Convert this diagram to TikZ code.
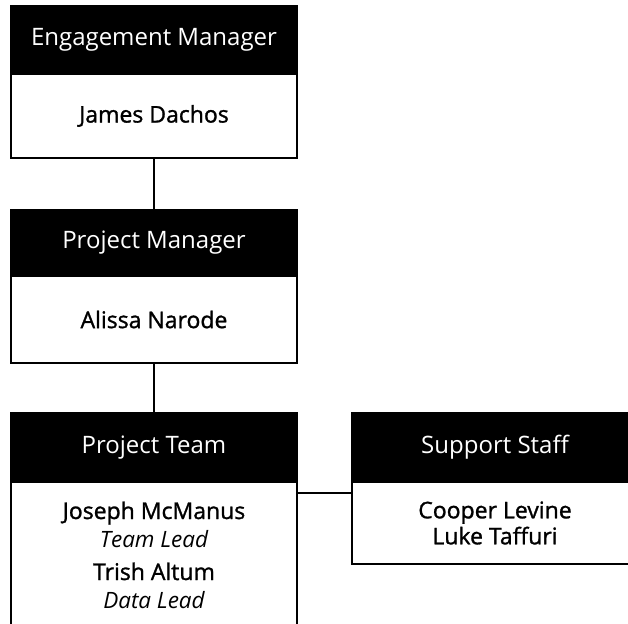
\documentclass[tikz,border=0pt]{standalone}
\usepackage{fontspec}
\setmainfont{Open Sans}
\newfontfamily\namefont[FakeBold=1.2]{Open Sans}
\usetikzlibrary{positioning}
\tikzset{
  link/.style={line width=1.6pt, draw=black}
}
\newcommand{\role}[1]{{\rmfamily\itshape\fontsize{22.5}{28}\selectfont #1}}
\begin{document}
\begin{tikzpicture}[
  x=1pt, y=1pt,
  head/.style={draw=black, fill=black, text=white, line width=1.2pt, minimum width=286pt, outer sep=0pt, font=\fontsize{24}{26}\selectfont},
  body/.style={draw=black, fill=white, line width=1.2pt, minimum width=286pt, outer sep=0pt, align=center, font=\namefont\fontsize{23}{26}\selectfont},
  names/.style={align=center, font=\namefont\fontsize{23}{28}\selectfont}
]
\useasboundingbox (0,0) rectangle (628,623);
\node[head, minimum height=68pt] (engHead) at (154,583) {Engagement Manager};
\node[body, minimum height=84pt, below=0pt of engHead] (engBody) {James Dachos};
\node[head, minimum height=66pt] (pmHead) at (154,380) {Project Manager};
\node[body, minimum height=87pt, below=0pt of pmHead] (pmBody) {Alissa Narode};
\node[head, minimum height=69pt] (teamHead) at (154,175.5) {Project Team};
\node[body, minimum height=158pt, below=0pt of teamHead] (teamBody) {};
\node[names, below=16pt of teamBody.north] (teamNames) {Joseph McManus\\\role{Team Lead}\\[5pt]Trish Altum\\\role{Data Lead}};
\node[head, minimum height=69pt] (supHead) at (495,175.5) {Support Staff};
\node[body, minimum height=82pt, below=0pt of supHead] (supBody) {Cooper Levine\\Luke Taffuri};
\draw[link] (engBody) -- (pmHead);
\draw[link] (pmBody) -- (teamHead);
\draw[link] ([yshift=-11pt]teamBody.north east) -- ([yshift=-11pt]supBody.north west);
\end{tikzpicture}
\end{document}
